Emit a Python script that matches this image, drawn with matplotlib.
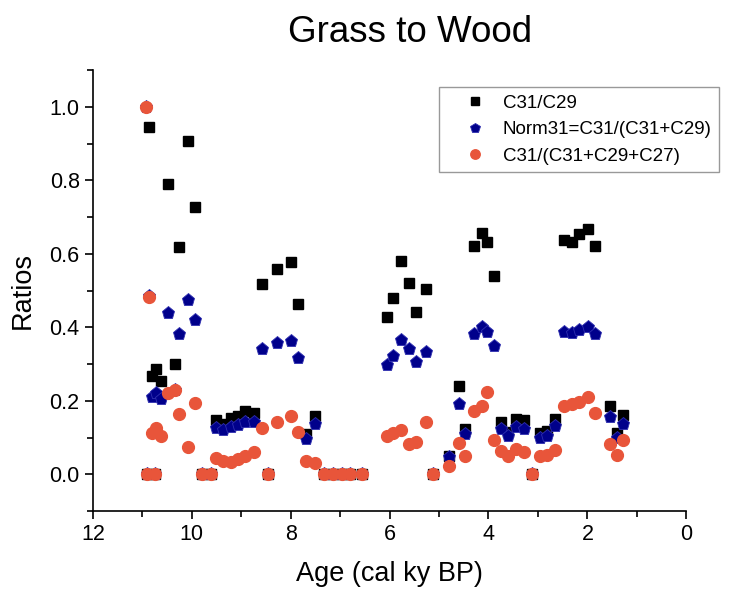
import numpy as np
import matplotlib
matplotlib.use("Agg")
import matplotlib.pyplot as plt
from matplotlib.ticker import MultipleLocator, FormatStrFormatter

plt.rcParams['font.family'] = ['Liberation Sans', 'DejaVu Sans']

# sample ages (cal ky BP) and the three ratios
age = [10.93, 10.90, 10.87, 10.81, 10.74, 10.72, 10.63, 10.48, 10.34, 10.25,
       10.07, 9.93, 9.79, 9.61, 9.51, 9.37, 9.20, 9.06, 8.92, 8.75,
       8.585, 8.46, 8.27, 8.00, 7.845, 7.68, 7.51, 7.32, 7.14, 6.96,
       6.80, 6.56, 6.06, 5.93, 5.765, 5.60, 5.46, 5.26, 5.12, 4.79,
       4.60, 4.47, 4.30, 4.13, 4.02, 3.88, 3.74, 3.61, 3.45, 3.29,
       3.12, 2.965, 2.82, 2.65, 2.48, 2.31, 2.16, 1.995, 1.845, 1.55,
       1.41, 1.28]
c31_c29 = [np.nan, 0.0, 0.944, 0.267, 0.0, 0.287, 0.255, 0.790, 0.300, 0.619,
           0.908, 0.727, 0.0, 0.0, 0.147, 0.138, 0.153, 0.158, 0.172, 0.166,
           0.517, 0.0, 0.560, 0.579, 0.465, 0.111, 0.159, 0.0, 0.0, 0.0,
           0.0, 0.0, 0.429, 0.481, 0.581, 0.522, 0.441, 0.505, 0.0, 0.050,
           0.240, 0.124, 0.621, 0.658, 0.633, 0.540, 0.144, 0.115, 0.150, 0.147,
           0.0, 0.114, 0.118, 0.152, 0.638, 0.632, 0.654, 0.667, 0.622, 0.186,
           0.114, 0.161]
norm31 = [1.0, 0.0, 0.485, 0.211, 0.0, 0.223, 0.204, 0.440, 0.230, 0.381,
          0.474, 0.420, 0.0, 0.0, 0.127, 0.121, 0.129, 0.135, 0.142, 0.142,
          0.340, 0.0, 0.358, 0.364, 0.316, 0.097, 0.138, 0.0, 0.0, 0.0,
          0.0, 0.0, 0.299, 0.323, 0.367, 0.342, 0.305, 0.333, 0.0, 0.048,
          0.193, 0.109, 0.381, 0.400, 0.388, 0.349, 0.123, 0.104, 0.128, 0.124,
          0.0, 0.100, 0.106, 0.133, 0.388, 0.386, 0.394, 0.401, 0.383, 0.156,
          0.100, 0.138]
c31_sum = [1.0, 0.0, 0.483, 0.113, 0.0, 0.127, 0.105, 0.222, 0.231, 0.165,
           0.074, 0.194, 0.0, 0.0, 0.044, 0.038, 0.034, 0.043, 0.049, 0.061,
           0.126, 0.0, 0.142, 0.158, 0.115, 0.036, 0.031, 0.0, 0.0, 0.0,
           0.0, 0.0, 0.104, 0.114, 0.120, 0.084, 0.088, 0.144, 0.0, 0.022,
           0.085, 0.051, 0.173, 0.185, 0.224, 0.094, 0.065, 0.050, 0.068, 0.061,
           0.0, 0.049, 0.054, 0.067, 0.185, 0.193, 0.197, 0.211, 0.168, 0.082,
           0.052, 0.093]

labels = ['C31/C29', 'Norm31=C31/(C31+C29)', 'C31/(C31+C29+C27)']

fig = plt.figure(figsize=(7.55, 5.89), dpi=100)
ax = fig.add_axes([0.123, 0.132, 0.786, 0.749])

ax.plot(age, c31_c29, ls='none', marker='s', ms=7.5, color='black', label=labels[0])
ax.plot(age, norm31, ls='none', marker='p', ms=9.5, color='#00008B',
        mec='#3030B0', mew=0.6, label=labels[1])
ax.plot(age, c31_sum, ls='none', marker='o', ms=8.5, color='#E8553A', label=labels[2])

ax.set_xlim(12, 0)
ax.set_ylim(-0.1, 1.1)
ax.xaxis.set_major_locator(MultipleLocator(2))
ax.xaxis.set_minor_locator(MultipleLocator(1))
ax.yaxis.set_minor_locator(MultipleLocator(0.1))
ax.set_yticks(np.arange(0, 1.01, 0.2))
ax.yaxis.set_major_formatter(FormatStrFormatter('%.1f'))
ax.spines['top'].set_visible(False)
ax.spines['right'].set_visible(False)
for s in ['left', 'bottom']:
    ax.spines[s].set_linewidth(1.2)
ax.tick_params(which='major', direction='out', length=6, width=1.2, labelsize=15.5)
ax.tick_params(which='minor', direction='out', length=4, width=1.2)

ax.set_xlabel('Age (cal ky BP)', fontsize=19.5, labelpad=11)
ax.set_ylabel('Ratios', fontsize=19.5, labelpad=10)
fig.text(0.543, 0.944, 'Grass to Wood', ha='center', va='center', fontsize=26.5)

leg = fig.legend(loc='upper right', bbox_to_anchor=(0.965, 0.868), fontsize=13.5,
                 frameon=True, fancybox=False, edgecolor='#808080',
                 handlelength=3.0, handletextpad=0.0, borderpad=0.4,
                 labelspacing=0.5, markerscale=0.8)
leg.get_frame().set_linewidth(1.0)

fig.savefig('out.png', dpi=100)
